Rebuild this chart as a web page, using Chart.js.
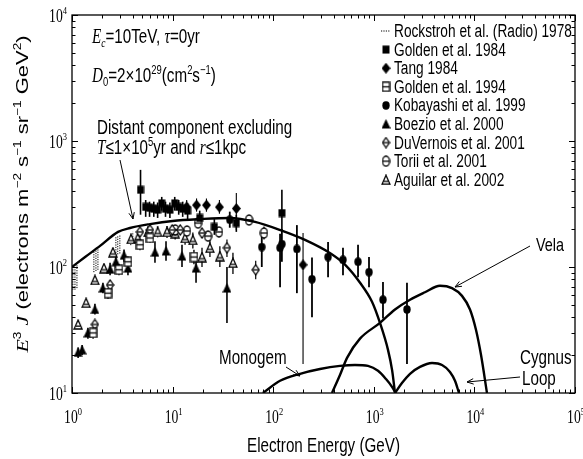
<!DOCTYPE html>
<html>
<head>
<meta charset="utf-8">
<script src="https://cdn.jsdelivr.net/npm/chart.js@4.4.1/dist/chart.umd.min.js"></script>
<style>
  html, body { margin: 0; padding: 0; background: #fff; }
</style>
</head>
<body>
<canvas id="chart" width="583" height="459"></canvas>
<script>
// ---- model curves (energy GeV, E^3 J) ----
const distantE = [1, 1.35, 1.9, 2.87, 3.77, 5.96, 10, 18.7, 37, 66, 116, 207, 366, 520, 730, 960, 1152, 1384, 1520, 1625];
const distantF = [100, 120, 147, 190, 204, 219, 232, 240, 245, 228, 197, 164, 129, 104, 75, 53, 36, 22, 15.2, 10];
const velaE = [384, 461, 542, 729, 1152, 1625, 2291, 3228, 4550, 5990, 7530, 9040, 10380, 11640, 13340];
const velaF = [10, 13.9, 19, 27, 36, 46, 55, 63, 71, 68, 59, 46, 31.6, 20, 10];
const monogemE = [79, 117, 185, 292, 461, 650, 876, 1101, 1322, 1517, 1650];
const monogemF = [10, 12.5, 14.2, 15.5, 16.4, 16.7, 16.4, 15, 12.9, 11.2, 10];
const cygnusE = [1625, 1905, 2291, 2878, 3790, 4767, 5720, 6412, 7030];
const cygnusF = [10, 12, 14.2, 16.1, 17.3, 16.7, 14.7, 12.5, 10];

// ---- measurements ----
const rockE = [1.02, 1.07, 1.12, 1.65, 1.73, 1.81, 2.73, 2.85, 2.99, 3.84, 4.02];
const rockLo = [66, 66, 68, 91, 93, 95, 124, 126, 128, 149, 152];
const rockHi = [100, 102, 104, 136, 138, 140, 173, 176, 180, 186, 190];

const golden84E = [4.8, 5.4, 5.9, 6.5, 7.1, 7.8, 8.5, 9.4, 10.5, 11.5, 12.6, 14.1, 18.6, 26, 43, 122];
const golden84F = [410, 300, 295, 290, 285, 320, 290, 285, 320, 300, 290, 280, 245, 208, 223, 268];
const golden84Lo = [260, 250, 250, 250, 245, 280, 250, 245, 280, 260, 250, 240, 215, 180, 190, 190];
const golden84Hi = [590, 340, 330, 330, 325, 360, 330, 325, 360, 340, 330, 320, 280, 240, 260, 410];

const tangE = [13.8, 17.3, 21.7, 29.2, 43, 198];
const tangF = [300, 310, 310, 299, 291, 104];
const tangLo = [265, 275, 275, 265, 197, 17];
const tangHi = [340, 350, 350, 340, 386, 186];

const golden94E = [1.62, 2.28, 2.93, 3.6, 4.74, 5.96, 16.3];
const golden94F = [30, 62, 95, 110, 150, 170, 120];
const golden94Lo = [27, 56, 86, 100, 136, 155, 105];
const golden94Hi = [33, 68, 105, 121, 165, 186, 137];

const kobE = [37, 77, 117, 122, 172, 243, 351, 494, 697, 896, 1234, 2137];
const kobF = [237, 144, 142, 152, 139, 80, 120, 114, 110, 91, 55, 46];
const kobLo = [205, 100, 69, 110, 62, 40, 83, 86, 83, 69, 39, 17];
const kobHi = [275, 180, 184, 200, 215, 119, 158, 142, 150, 120, 76, 75];

const boezioE = [1.15, 1.26, 1.44, 1.69, 2.03, 2.39, 2.73, 3.29, 3.6, 6.68, 8.6, 12.4, 17.1, 34.7];
const boezioF = [21, 22, 30, 46, 68, 96, 110, 124, 98, 131, 134, 122, 98, 68];
const boezioLo = [19, 20, 27, 42, 62, 86, 98, 110, 86, 108, 112, 100, 75, 36];
const boezioHi = [23, 24, 33, 51, 75, 108, 122, 138, 110, 160, 160, 150, 130, 100];

const duvE = [1.69, 2.39, 4.74, 5.96, 9.9, 11.9, 19.6, 34.7, 67];
const duvF = [35, 72, 190, 197, 197, 197, 186, 142, 95];
const duvLo = [32, 66, 175, 180, 180, 180, 170, 120, 80];
const duvHi = [38, 78, 205, 214, 214, 214, 203, 165, 112];

const toriiE = [10.6, 13.9, 17.9, 22.5, 28.9, 57.5, 81];
const toriiF = [197, 193, 223, 176, 190, 236, 186];
const toriiLo = [180, 176, 205, 160, 172, 215, 165];
const toriiHi = [215, 211, 243, 193, 208, 258, 210];

const aguilarE = [1.15, 1.38, 1.69, 2.08, 2.55, 3.86, 4.5, 5.7, 7.1, 8.8, 10.6, 13.3, 15.9, 19.6, 23.5, 29.5, 39.8];
const aguilarF = [35, 52, 79, 98, 131, 167, 170, 190, 190, 190, 186, 170, 164, 120, 142, 122, 108];
const aguilarLo = [33, 49, 74, 92, 122, 155, 158, 172, 172, 170, 165, 150, 140, 100, 120, 100, 88];
const aguilarHi = [37, 55, 84, 104, 140, 180, 183, 210, 210, 212, 208, 192, 188, 142, 165, 146, 130];

const xDecades = [0, 1, 2, 3, 4, 5];
const yDecades = [1, 2, 3, 4];

const SX = 0.76; // text in the original is squeezed sideways

function pts(xs, ys) { return xs.map((x, i) => ({ x: x, y: ys[i] })); }

// ---- marker glyphs ----
function glyph(w, h, draw) {
  const c = document.createElement('canvas');
  c.width = w; c.height = h;
  const g = c.getContext('2d');
  g.strokeStyle = '#000'; g.fillStyle = '#000'; g.lineWidth = 1.3;
  draw(g, w, h);
  return c;
}
const mSquare = glyph(8, 9, (g, w, h) => g.fillRect(0.5, 0.5, w - 1, h - 1));
const mDiamond = glyph(9, 11, (g, w, h) => {
  g.beginPath(); g.moveTo(w / 2, 0); g.lineTo(w, h / 2); g.lineTo(w / 2, h); g.lineTo(0, h / 2); g.closePath(); g.fill();
});
const mCircle = glyph(8, 9, (g, w, h) => {
  g.beginPath(); g.ellipse(w / 2, h / 2, w / 2 - 0.3, h / 2 - 0.3, 0, 0, Math.PI * 2); g.fill();
});
const mTriangle = glyph(9, 10, (g, w, h) => {
  g.beginPath(); g.moveTo(w / 2, 0); g.lineTo(w, h - 0.5); g.lineTo(0, h - 0.5); g.closePath(); g.fill();
});
const mSquareOpen = glyph(9, 11, (g, w, h) => {
  g.fillStyle = '#fff'; g.fillRect(1, 1, w - 2, h - 2);
  g.strokeRect(1, 1, w - 2, h - 2);
  g.beginPath(); g.moveTo(1, h / 2); g.lineTo(w - 1, h / 2); g.stroke();
});
const mDiamondOpen = glyph(9, 12, (g, w, h) => {
  g.beginPath(); g.moveTo(w / 2, 1); g.lineTo(w - 1, h / 2); g.lineTo(w / 2, h - 1); g.lineTo(1, h / 2); g.closePath();
  g.fillStyle = '#fff'; g.fill(); g.stroke();
  g.beginPath(); g.moveTo(2, h / 2); g.lineTo(w - 2, h / 2); g.stroke();
});
const mCircleOpen = glyph(9, 12, (g, w, h) => {
  g.beginPath(); g.ellipse(w / 2, h / 2, w / 2 - 1, h / 2 - 1, 0, 0, Math.PI * 2);
  g.fillStyle = '#fff'; g.fill(); g.stroke();
  g.beginPath(); g.moveTo(1, h / 2); g.lineTo(w - 1, h / 2); g.stroke();
});
const mTriangleOpen = glyph(10, 11, (g, w, h) => {
  g.beginPath(); g.moveTo(w / 2, 1); g.lineTo(w - 1, h - 1); g.lineTo(1, h - 1); g.closePath();
  g.fillStyle = '#fff'; g.fill(); g.stroke();
  g.beginPath(); g.moveTo(3, h * 0.65); g.lineTo(w - 3, h * 0.65); g.stroke();
});

function curve(label, xs, ys) {
  return { label: label, data: pts(xs, ys), showLine: true, borderColor: '#000', borderWidth: 2.4,
           pointRadius: 0, cubicInterpolationMode: 'monotone', fill: false, isCurve: true };
}
function measured(label, xs, ys, lo, hi, marker, errWidth) {
  return { label: label, data: pts(xs, ys), pointStyle: marker, pointRadius: 5,
           errLo: lo, errHi: hi, errWidth: errWidth || 1.5, marker: marker };
}

const datasets = [
  curve('Distant', distantE, distantF),
  curve('Vela', velaE, velaF),
  curve('Monogem', monogemE, monogemF),
  curve('Cygnus Loop', cygnusE, cygnusF),
  { label: 'Rockstroh et al. (Radio) 1978', data: pts(rockE, rockLo), pointRadius: 0,
    errLo: rockLo, errHi: rockHi, errWidth: 1, errDash: [1.2, 1.2], dotted: true },
  measured('Golden et al. 1984', golden84E, golden84F, golden84Lo, golden84Hi, mSquare, 1.6),
  measured('Tang 1984', tangE, tangF, tangLo, tangHi, mDiamond, 1.1),
  measured('Golden et al. 1994', golden94E, golden94F, golden94Lo, golden94Hi, mSquareOpen, 1.4),
  measured('Kobayashi et al. 1999', kobE, kobF, kobLo, kobHi, mCircle, 1.8),
  measured('Boezio et al. 2000', boezioE, boezioF, boezioLo, boezioHi, mTriangle, 1.6),
  measured('DuVernois et al. 2001', duvE, duvF, duvLo, duvHi, mDiamondOpen, 1.2),
  measured('Torii et al. 2001', toriiE, toriiF, toriiLo, toriiHi, mCircleOpen, 1.2),
  measured('Aguilar et al. 2002', aguilarE, aguilarF, aguilarLo, aguilarHi, mTriangleOpen, 1.3)
];

// ---- text helpers ----
function fontFor(p, size) {
  const s = p[2] ? size * 0.62 : size;
  if (p[1] === 'i') return 'italic ' + s + 'px "Liberation Serif"';
  if (p[1] === 'r') return s + 'px "Liberation Serif"';
  return s + 'px "Liberation Sans"';
}
function richWidth(ctx, parts, size) {
  let w = 0;
  parts.forEach(p => { ctx.font = fontFor(p, size); w += ctx.measureText(p[0]).width; });
  return w;
}
// rot: rotate the text; for rotated text the squeeze goes across the glyphs
function drawRich(ctx, parts, x, y, size, align, rot) {
  ctx.save();
  ctx.translate(x, y);
  if (rot) { ctx.rotate(rot); ctx.scale(1, SX); } else ctx.scale(SX, 1);
  const w = richWidth(ctx, parts, size);
  let cx = align === 'center' ? -w / 2 : align === 'right' ? -w : 0;
  ctx.textAlign = 'left'; ctx.textBaseline = 'alphabetic'; ctx.fillStyle = '#000';
  parts.forEach(p => {
    ctx.font = fontFor(p, size);
    const dy = p[2] === 'sup' ? -size * 0.42 : p[2] === 'sub' ? size * 0.2 : 0;
    ctx.fillText(p[0], cx, dy);
    cx += ctx.measureText(p[0]).width;
  });
  ctx.restore();
}
function arrow(ctx, x1, y1, x2, y2) {
  const a = Math.atan2(y2 - y1, x2 - x1), L = 7, s = 0.4;
  ctx.save();
  ctx.strokeStyle = '#000'; ctx.lineWidth = 1;
  ctx.beginPath(); ctx.moveTo(x1, y1); ctx.lineTo(x2, y2); ctx.stroke();
  ctx.beginPath();
  ctx.moveTo(x2 - L * Math.cos(a - s), y2 - L * Math.sin(a - s));
  ctx.lineTo(x2, y2);
  ctx.lineTo(x2 - L * Math.cos(a + s), y2 - L * Math.sin(a + s));
  ctx.stroke();
  ctx.restore();
}

// ---- error bars under the markers ----
const errorBars = {
  id: 'errorBars',
  beforeDatasetsDraw(chart) {
    const { ctx, chartArea: a, scales: { x, y } } = chart;
    ctx.save();
    ctx.beginPath(); ctx.rect(a.left, a.top, a.right - a.left, a.bottom - a.top); ctx.clip();
    chart.data.datasets.forEach(ds => {
      if (!ds.errLo) return;
      ctx.strokeStyle = '#000';
      ctx.lineWidth = ds.errWidth;
      ctx.setLineDash(ds.errDash || []);
      ds.data.forEach((p, i) => {
        const px = x.getPixelForValue(p.x);
        ctx.beginPath();
        ctx.moveTo(px, y.getPixelForValue(ds.errLo[i]));
        ctx.lineTo(px, y.getPixelForValue(ds.errHi[i]));
        ctx.stroke();
      });
    });
    ctx.restore();
  }
};

// ---- frame, inward ticks, labels, legend and notes ----
const decorations = {
  id: 'decorations',
  afterDraw(chart) {
    const { ctx, chartArea: a, scales: { x, y } } = chart;
    ctx.save();
    ctx.strokeStyle = '#000';
    ctx.lineWidth = 1.3;
    ctx.strokeRect(a.left, a.top, a.right - a.left, a.bottom - a.top);

    ctx.lineWidth = 1;
    xDecades.forEach(d => {
      for (let k = 1; k <= 9; k++) {
        const v = k * Math.pow(10, d);
        if (v > 1e5) break;
        const px = Math.round(x.getPixelForValue(v)) + 0.5;
        const len = k === 1 ? 6 : 3.5;
        ctx.beginPath();
        ctx.moveTo(px, a.bottom); ctx.lineTo(px, a.bottom - len);
        ctx.moveTo(px, a.top); ctx.lineTo(px, a.top + len);
        ctx.stroke();
      }
      drawRich(ctx, [['10', 'r'], [String(d), 'r', 'sup']], x.getPixelForValue(Math.pow(10, d)) + 1, 423, 18, 'center');
    });
    yDecades.forEach(d => {
      for (let k = 1; k <= 9; k++) {
        const v = k * Math.pow(10, d);
        if (v > 1e4) break;
        const py = Math.round(y.getPixelForValue(v)) + 0.5;
        const len = k === 1 ? 6 : 3.5;
        ctx.beginPath();
        ctx.moveTo(a.left, py); ctx.lineTo(a.left + len, py);
        ctx.moveTo(a.right, py); ctx.lineTo(a.right - len, py);
        ctx.stroke();
      }
      drawRich(ctx, [['10', 'r'], [String(d), 'r', 'sup']], 67, y.getPixelForValue(Math.pow(10, d)) + 7, 18, 'right');
    });

    // axis titles
    drawRich(ctx, [['Electron Energy (GeV)', 's']], (a.left + a.right) / 2, 452, 20, 'center');
    drawRich(ctx, [['E', 'i'], ['3', 's', 'sup'], [' ', 's'], ['J', 'i'], [' (electrons m', 's'], ['\u22122', 's', 'sup'],
                   [' s', 's'], ['\u22121', 's', 'sup'], [' sr', 's'], ['\u22121', 's', 'sup'], [' GeV', 's'], ['2', 's', 'sup'], [')', 's']],
             28, 194, 22, 'center', -Math.PI / 2);

    // legend
    let row = 0;
    chart.data.datasets.forEach(ds => {
      if (ds.isCurve) return;
      const ly = 31 + row * 18.6;
      if (ds.dotted) {
        ctx.save(); ctx.setLineDash([1.2, 1.2]); ctx.lineWidth = 1;
        ctx.beginPath(); ctx.moveTo(381, ly); ctx.lineTo(390, ly); ctx.stroke(); ctx.restore();
      } else {
        ctx.drawImage(ds.marker, 386 - ds.marker.width / 2, ly - ds.marker.height / 2);
      }
      drawRich(ctx, [[ds.label, 's']], 394, ly + 6, 18, 'left');
      row++;
    });

    // notes
    drawRich(ctx, [['E', 'i'], ['c', 'i', 'sub'], ['=10TeV, ', 's'], ['\u03c4', 'i'], ['=0yr', 's']], 92, 43, 20, 'left');
    drawRich(ctx, [['D', 'i'], ['0', 's', 'sub'], ['=2\u00d710', 's'], ['29', 's', 'sup'], ['(cm', 's'], ['2', 's', 'sup'],
                   ['s', 's'], ['\u22121', 's', 'sup'], [')', 's']], 92, 82, 20, 'left');
    drawRich(ctx, [['Distant component excluding', 's']], 97, 134, 20, 'left');
    drawRich(ctx, [['T', 'i'], ['\u22641\u00d710', 's'], ['5', 's', 'sup'], ['yr and ', 's'], ['r', 'i'], ['\u22641kpc', 's']], 97, 154, 20, 'left');
    arrow(ctx, 120, 160, 133, 219);

    drawRich(ctx, [['Vela', 's']], 536, 251, 19, 'left');
    arrow(ctx, 530, 246, 455, 287);
    drawRich(ctx, [['Monogem', 's']], 219, 364, 20, 'left');
    arrow(ctx, 286, 367, 300, 376);
    drawRich(ctx, [['Cygnus', 's']], 520, 364, 20, 'left');
    drawRich(ctx, [['Loop', 's']], 522, 385, 20, 'left');
    arrow(ctx, 520, 377, 467, 382);
    ctx.restore();
  }
};

new Chart(document.getElementById('chart'), {
  type: 'scatter',
  data: { datasets: datasets },
  options: {
    responsive: false,
    animation: false,
    devicePixelRatio: 1,
    layout: { padding: { left: 72, top: 15, right: 8, bottom: 66 } },
    scales: {
      x: { type: 'logarithmic', min: 1, max: 1e5, display: false },
      y: { type: 'logarithmic', min: 10, max: 1e4, display: false }
    },
    plugins: { legend: { display: false }, tooltip: { enabled: false } }
  },
  plugins: [errorBars, decorations]
});
</script>
</body>
</html>
